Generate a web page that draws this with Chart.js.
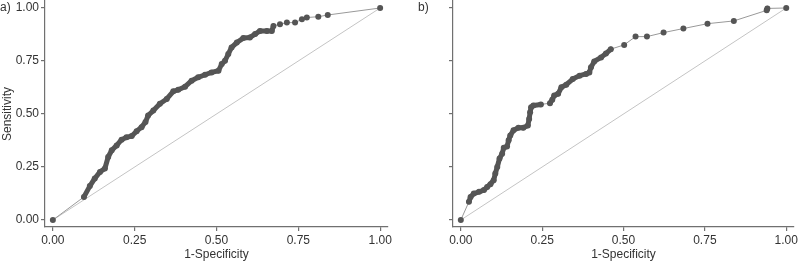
<!DOCTYPE html>
<html>
<head>
<meta charset="utf-8">
<script src="https://cdn.jsdelivr.net/npm/chart.js@4.4.1/dist/chart.umd.min.js"></script>
<style>
  html, body { margin: 0; padding: 0; background: #fff; overflow: hidden; }
  #wrap { position: relative; width: 800px; height: 264px; overflow: hidden; }
  .panel { position: absolute; top: -3px; width: 400px; height: 267px; }
</style>
</head>
<body>
<div id="wrap">
  <div class="panel" style="left:0"><canvas id="rocA" width="400" height="267"></canvas></div>
  <div class="panel" style="left:400px"><canvas id="rocB" width="400" height="267"></canvas></div>
</div>
<script>
// tick positions shared by both axes
const tickValues = [0, 0.25, 0.5, 0.75, 1];
const tickLabels = ['0.00', '0.25', '0.50', '0.75', '1.00'];

// panel a) ROC curve (read off the picture)
const rocA_fpr = [0, 0.095, 0.113, 0.128, 0.144, 0.159, 0.169, 0.180, 0.195, 0.210, 0.225, 0.241, 0.256, 0.271, 0.283, 0.291, 0.307, 0.327, 0.348, 0.368, 0.383, 0.404, 0.424, 0.444, 0.465, 0.485, 0.506, 0.516, 0.526, 0.536, 0.546, 0.562, 0.582, 0.602, 0.618, 0.633, 0.654, 0.669, 0.674, 0.694, 0.715, 0.740, 0.761, 0.776, 0.811, 0.840, 1.0];
const rocA_tpr = [0, 0.109, 0.160, 0.196, 0.227, 0.243, 0.297, 0.329, 0.352, 0.379, 0.390, 0.396, 0.419, 0.438, 0.462, 0.493, 0.516, 0.548, 0.571, 0.607, 0.614, 0.629, 0.657, 0.673, 0.685, 0.696, 0.704, 0.736, 0.751, 0.783, 0.814, 0.837, 0.858, 0.861, 0.877, 0.892, 0.892, 0.892, 0.915, 0.923, 0.931, 0.931, 0.947, 0.955, 0.959, 0.967, 1.0];

// panel b) ROC curve
const rocB_fpr = [0, 0.025, 0.030, 0.040, 0.056, 0.071, 0.081, 0.091, 0.101, 0.106, 0.112, 0.119, 0.127, 0.132, 0.142, 0.147, 0.152, 0.162, 0.177, 0.192, 0.206, 0.210, 0.213, 0.216, 0.223, 0.246, 0.274, 0.281, 0.287, 0.299, 0.309, 0.324, 0.344, 0.365, 0.385, 0.395, 0.400, 0.410, 0.431, 0.446, 0.461, 0.502, 0.537, 0.572, 0.623, 0.684, 0.758, 0.839, 0.940, 0.942, 1.0];
const rocB_tpr = [0, 0.086, 0.109, 0.125, 0.133, 0.141, 0.156, 0.169, 0.188, 0.219, 0.250, 0.290, 0.313, 0.341, 0.347, 0.376, 0.399, 0.423, 0.435, 0.435, 0.446, 0.477, 0.508, 0.532, 0.540, 0.545, 0.551, 0.567, 0.587, 0.595, 0.626, 0.638, 0.665, 0.681, 0.689, 0.696, 0.720, 0.748, 0.767, 0.785, 0.806, 0.826, 0.865, 0.865, 0.884, 0.903, 0.926, 0.939, 0.989, 0.998, 1.0];

// chance line
const diag_x = [0, 1];
const diag_y = [0, 1];

const FONT = 'Liberation Sans, Arial, Helvetica, sans-serif';
const AXIS_COLOR = '#707070';
const TEXT_COLOR = '#333';
const MARK_COLOR = '#555';

const toPoints = (xs, ys) => xs.map((x, i) => ({ x: x, y: ys[i] }));

// draws "a)" / "b)" next to the 1.00 tick
const panelLabel = {
    id: 'panelLabel',
    afterDraw(chart, args, opts) {
        const ctx = chart.ctx;
        const y = chart.scales.y.getPixelForValue(1);
        ctx.save();
        ctx.font = '12px ' + FONT;
        ctx.fillStyle = TEXT_COLOR;
        ctx.textAlign = 'left';
        ctx.textBaseline = 'middle';
        ctx.fillText(opts.text, opts.x, y);
        ctx.restore();
    }
};

function makeRoc(canvasId, fpr, tpr, cfg) {
    const ctx = document.getElementById(canvasId).getContext('2d');
    // markers that sit close together overlap into a thick chain in the original
    const dense = c => fpr[c.p1DataIndex] <= cfg.denseUpTo &&
        Math.hypot(c.p1.x - c.p0.x, c.p1.y - c.p0.y) < cfg.denseGap;
    return new Chart(ctx, {
        type: 'scatter',
        data: {
            datasets: [
                {
                    data: toPoints(fpr, tpr),
                    showLine: true,
                    borderColor: '#999',
                    borderWidth: 1,
                    borderCapStyle: 'round',
                    borderJoinStyle: 'round',
                    segment: {
                        borderColor: c => dense(c) ? MARK_COLOR : '#999',
                        borderWidth: c => dense(c) ? 5 : 1
                    },
                    pointRadius: 3,
                    pointBackgroundColor: MARK_COLOR,
                    pointBorderWidth: 0
                },
                {
                    data: toPoints(diag_x, diag_y),
                    showLine: true,
                    borderColor: '#c4c4c4',
                    borderWidth: 1,
                    pointRadius: 0
                }
            ]
        },
        options: {
            responsive: false,
            animation: false,
            devicePixelRatio: 1,
            layout: { padding: { left: 0, right: cfg.padRight, top: 0, bottom: 0 } },
            plugins: {
                legend: { display: false },
                tooltip: { enabled: false },
                panelLabel: { text: cfg.label, x: cfg.labelX }
            },
            scales: {
                x: {
                    type: 'linear',
                    min: -0.024,
                    max: 1.024,
                    afterBuildTicks: s => { s.ticks = tickValues.map(v => ({ value: v })); },
                    afterFit: s => { s.height = 37; },
                    ticks: {
                        callback: v => tickLabels[tickValues.indexOf(v)],
                        color: TEXT_COLOR,
                        font: { family: FONT, size: 12 },
                        padding: 2,
                        maxRotation: 0,
                        autoSkip: false
                    },
                    grid: { drawOnChartArea: false, drawTicks: true, tickLength: 4, color: AXIS_COLOR, lineWidth: 1.2 },
                    border: { color: AXIS_COLOR, width: 1.2 },
                    title: {
                        display: true,
                        text: '1-Specificity',
                        color: TEXT_COLOR,
                        font: { family: FONT, size: 12 },
                        padding: { top: 0, bottom: 2 }
                    }
                },
                y: {
                    type: 'linear',
                    min: -0.033,
                    max: 1.033,
                    afterBuildTicks: s => { s.ticks = tickValues.map(v => ({ value: v })); },
                    afterFit: s => { s.width = cfg.yWidth; s.paddingTop = 0; s.paddingBottom = 0; },
                    ticks: {
                        display: cfg.yLabels,
                        callback: v => tickLabels[tickValues.indexOf(v)],
                        color: TEXT_COLOR,
                        font: { family: FONT, size: 12 },
                        padding: 2
                    },
                    grid: { drawOnChartArea: false, drawTicks: true, tickLength: 4, color: AXIS_COLOR, lineWidth: 1.2 },
                    border: { color: AXIS_COLOR, width: 1.2 },
                    title: {
                        display: cfg.yLabels,
                        text: 'Sensitivity',
                        color: TEXT_COLOR,
                        font: { family: FONT, size: 12 },
                        padding: { top: 0, bottom: 0 }
                    }
                }
            }
        },
        plugins: [panelLabel]
    });
}

makeRoc('rocA', rocA_fpr, rocA_tpr, { label: 'a)', labelX: 0, yWidth: 45, padRight: 12, yLabels: true, denseUpTo: 0.68, denseGap: 14 });
makeRoc('rocB', rocB_fpr, rocB_tpr, { label: 'b)', labelX: 18, yWidth: 53, padRight: 3, yLabels: false, denseUpTo: 1, denseGap: 9 });
</script>
</body>
</html>
